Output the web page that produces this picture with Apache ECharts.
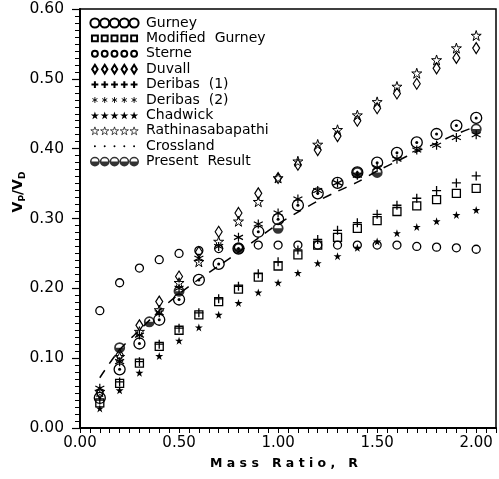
<!DOCTYPE html>
<html>
<head>
<meta charset="utf-8">
<script src="https://cdn.jsdelivr.net/npm/echarts@6/dist/echarts.min.js"></script>
<style>
  html, body { margin: 0; padding: 0; background: #fff; }
  #chart { width: 499px; height: 479px; }
</style>
</head>
<body>
<div id="chart"></div>
<script>
// mass ratio values where the comparison points are plotted
const massRatio = [0.1, 0.2, 0.3, 0.4, 0.5, 0.6, 0.7, 0.8, 0.9, 1.0, 1.1, 1.2, 1.3, 1.4, 1.5, 1.6, 1.7, 1.8, 1.9, 2.0];

// Vp/Vd, one value per mass ratio
const gurney     = [0.043, 0.084, 0.121, 0.155, 0.184, 0.212, 0.235, 0.257, 0.281, 0.299, 0.319, 0.336, 0.351, 0.366, 0.38, 0.394, 0.409, 0.421, 0.433, 0.444];
const modGurney  = [0.036, 0.064, 0.093, 0.117, 0.14, 0.162, 0.181, 0.199, 0.216, 0.232, 0.248, 0.262, 0.273, 0.286, 0.297, 0.31, 0.318, 0.327, 0.336, 0.343];
const sterne     = [0.168, 0.208, 0.229, 0.241, 0.25, 0.254, 0.257, 0.259, 0.262, 0.262, 0.262, 0.262, 0.262, 0.262, 0.262, 0.262, 0.26, 0.259, 0.258, 0.256];
const duvall     = [0.05, 0.105, 0.147, 0.181, 0.217, 0.252, 0.281, 0.308, 0.336, 0.358, 0.377, 0.398, 0.418, 0.44, 0.458, 0.479, 0.493, 0.515, 0.53, 0.544];
const deribas1   = [0.04, 0.066, 0.095, 0.12, 0.143, 0.165, 0.185, 0.203, 0.221, 0.238, 0.255, 0.27, 0.283, 0.294, 0.306, 0.319, 0.329, 0.34, 0.351, 0.361];
const deribas2   = [0.057, 0.095, 0.133, 0.165, 0.2, 0.243, 0.26, 0.273, 0.292, 0.308, 0.328, 0.34, 0.351, 0.362, 0.373, 0.385, 0.398, 0.405, 0.416, 0.42];
const chadwick   = [0.028, 0.054, 0.079, 0.103, 0.125, 0.144, 0.162, 0.179, 0.194, 0.208, 0.222, 0.236, 0.246, 0.258, 0.267, 0.279, 0.288, 0.296, 0.305, 0.312];
const rathina    = [0.052, 0.102, 0.138, 0.169, 0.208, 0.238, 0.267, 0.296, 0.324, 0.358, 0.382, 0.406, 0.427, 0.448, 0.467, 0.489, 0.508, 0.527, 0.544, 0.562];
const crossland  = [0.043, 0.084, 0.121, 0.155, 0.184, 0.212, 0.235, 0.257, 0.281, 0.299, 0.319, 0.336, 0.351, 0.366, 0.38, 0.394, 0.409, 0.421, 0.433, 0.444];

// present result: marked points and the dashed curve
const presentR = [0.2, 0.35, 0.5, 0.8, 1.0, 1.4, 1.5, 2.0];
const presentV = [0.115, 0.152, 0.196, 0.257, 0.286, 0.366, 0.366, 0.428];
const curveV   = [0.072, 0.112, 0.14, 0.168, 0.192, 0.213, 0.232, 0.252, 0.272, 0.292, 0.309, 0.325, 0.339, 0.352, 0.368, 0.382, 0.396, 0.408, 0.421, 0.432];

const FONT = "'DejaVu Sans', sans-serif";

// ---- symbol paths (a 10x10 cell, shifted by ox) ----
const cells = {
  circle: r => ox => 'M' + (ox + 5 - r) + ',5a' + r + ',' + r + ' 0 1,0 ' + (2 * r) + ',0a' + r + ',' + r + ' 0 1,0 ' + (-2 * r) + ',0Z',
  rect: h => ox => 'M' + (ox + 5 - h) + ',' + (5 - h) + 'h' + (2 * h) + 'v' + (2 * h) + 'h' + (-2 * h) + 'Z',
  diamond: () => ox => 'M' + (ox + 5) + ',0.5L' + (ox + 7.8) + ',5L' + (ox + 5) + ',9.5L' + (ox + 2.2) + ',5Z',
  plus: () => ox => 'M' + (ox + 5) + ',1.5V8.5M' + (ox + 1.5) + ',5H' + (ox + 8.5),
  aster: () => ox => 'M' + (ox + 5) + ',2V8M' + (ox + 2.4) + ',3.5L' + (ox + 7.6) + ',6.5M' + (ox + 2.4) + ',6.5L' + (ox + 7.6) + ',3.5',
  star: () => ox => {
    const p = [[5, 1], [6, 4], [9.2, 4], [6.6, 5.9], [7.6, 9], [5, 7.1], [2.4, 9], [3.4, 5.9], [0.8, 4], [4, 4]];
    return 'M' + p.map(q => (ox + q[0]) + ',' + q[1]).join('L') + 'Z';
  },
  half: () => ox => 'M' + ox + ',5A5,5 0 0,1 ' + (ox + 10) + ',5A5,5 0 0,1 ' + ox + ',5Z' +
    'M' + (ox + 1.6) + ',5L' + (ox + 8.4) + ',5A3.4,3.4 0 0,0 ' + (ox + 1.6) + ',5Z'
};

// legend rows are five copies of the cell, inside a fixed 50x10 frame
// (two invisible corner points keep every row the same size)
function one(cell) { return 'path://' + cell(0); }
function row(cell) {
  let s = 'M0,0L0,0M50,10L50,10';
  for (let i = 0; i < 5; i++) s += cell(i * 10);
  return 'path://' + s;
}

const OPEN = 'rgba(0,0,0,0)';

const specs = [
  { name: 'Gurney', data: gurney, cell: cells.circle(4.6), size: 11, fill: OPEN, bw: 1.3 },
  { name: 'Modified  Gurney', data: modGurney, cell: cells.rect(3), size: 8, fill: OPEN, bw: 1.3 },
  { name: 'Sterne', data: sterne, cell: cells.circle(3), size: 8, fill: OPEN, bw: 1.3 },
  { name: 'Duvall', data: duvall, cell: cells.diamond(), size: [7, 11], fill: OPEN, bw: 1.2 },
  { name: 'Deribas  (1)', data: deribas1, cell: cells.plus(), size: 9, fill: OPEN, bw: 1.3 },
  { name: 'Deribas  (2)', data: deribas2, cell: cells.aster(), size: 9, fill: OPEN, bw: 1.2, legendBw: 0.9 },
  { name: 'Chadwick', data: chadwick, cell: cells.star(), size: 8, fill: '#000', bw: 0 },
  { name: 'Rathinasabapathi', data: rathina, cell: cells.star(), size: 10, fill: OPEN, bw: 1, legendBw: 0.7 },
  { name: 'Crossland', data: crossland, cell: cells.circle(1), size: 3, fill: '#000', bw: 0 }
];

const series = specs.map(s => ({
  name: s.name,
  type: 'scatter',
  symbol: one(s.cell),
  symbolSize: s.size,
  itemStyle: { color: s.fill, borderColor: '#000', borderWidth: s.bw, opacity: 1 },
  data: massRatio.map((r, i) => [r, s.data[i]])
}));

series.push({
  name: 'curve',
  type: 'line',
  smooth: 0.3,
  showSymbol: false,
  lineStyle: { color: '#000', width: 1.5, type: [9, 8] },
  data: massRatio.map((r, i) => [r, curveV[i]]),
  z: 1
});

series.push({
  name: 'Present  Result',
  type: 'scatter',
  symbol: one(cells.half()),
  symbolSize: 11,
  itemStyle: { color: '#000', borderColor: '#000', borderWidth: 0 },
  data: presentR.map((r, i) => [r, presentV[i]])
});

const legendData = specs.map(s => {
  const item = { name: s.name, icon: row(s.cell) };
  if (s.legendBw) item.itemStyle = { borderWidth: s.legendBw };
  return item;
});
legendData.push({ name: 'Present  Result', icon: row(cells.half()) });

const chart = echarts.init(document.getElementById('chart'));
chart.setOption({
  animation: false,
  backgroundColor: '#fff',
  textStyle: { fontFamily: FONT, color: '#000' },
  grid: { left: 80, right: 2, top: 9, bottom: 51, show: true, borderColor: '#000', borderWidth: 1.5 },
  legend: {
    orient: 'vertical', left: 84, top: 11,
    itemWidth: 49, itemHeight: 10, itemGap: 1.4,
    symbolKeepAspect: true,
    selectedMode: false,
    textStyle: { fontFamily: FONT, fontSize: 14, color: '#000', lineHeight: 14, padding: [0, 0, 0, 2] },
    data: legendData
  },
  xAxis: {
    type: 'value', min: 0, max: 2.1, interval: 0.05,
    name: 'M a s s   R a t i o ,   R', nameLocation: 'middle', nameGap: 29,
    nameTextStyle: { fontFamily: FONT, fontSize: 12.5, fontWeight: 'bold', color: '#000', padding: [0, 8, 0, 0] },
    axisLine: { show: true, lineStyle: { color: '#000', width: 2 } },
    axisTick: { show: true, inside: false, length: 5, lineStyle: { color: '#000', width: 1 } },
    axisLabel: {
      color: '#000', fontFamily: FONT, fontSize: 15, margin: 8,
      formatter: v => (Math.abs(v * 2 - Math.round(v * 2)) < 1e-6 && v <= 2.0001) ? v.toFixed(2) : ''
    },
    splitLine: { show: false }
  },
  yAxis: {
    type: 'value', min: 0, max: 0.6, interval: 0.1,
    axisLine: { show: true, lineStyle: { color: '#000', width: 2 } },
    axisTick: { show: true, inside: false, length: 8, lineStyle: { color: '#000', width: 1.2 } },
    minorTick: { show: true, splitNumber: 10, length: 5, lineStyle: { color: '#000', width: 1 } },
    axisLabel: { color: '#000', fontFamily: FONT, fontSize: 15.5, margin: 16, formatter: v => v.toFixed(2) },
    splitLine: { show: false }
  },
  graphic: [{
    type: 'text', x: 18, y: 192, rotation: Math.PI / 2,
    style: {
      text: '{v|V}{s|P}{v|/V}{s|D}',
      align: 'center', verticalAlign: 'middle', fill: '#000',
      rich: {
        v: { fontFamily: FONT, fontSize: 14, fontWeight: 'bold', lineHeight: 18, verticalAlign: 'middle' },
        s: { fontFamily: FONT, fontSize: 9, fontWeight: 'bold', lineHeight: 18, verticalAlign: 'bottom' }
      }
    }
  }],
  series: series
});
</script>
</body>
</html>
